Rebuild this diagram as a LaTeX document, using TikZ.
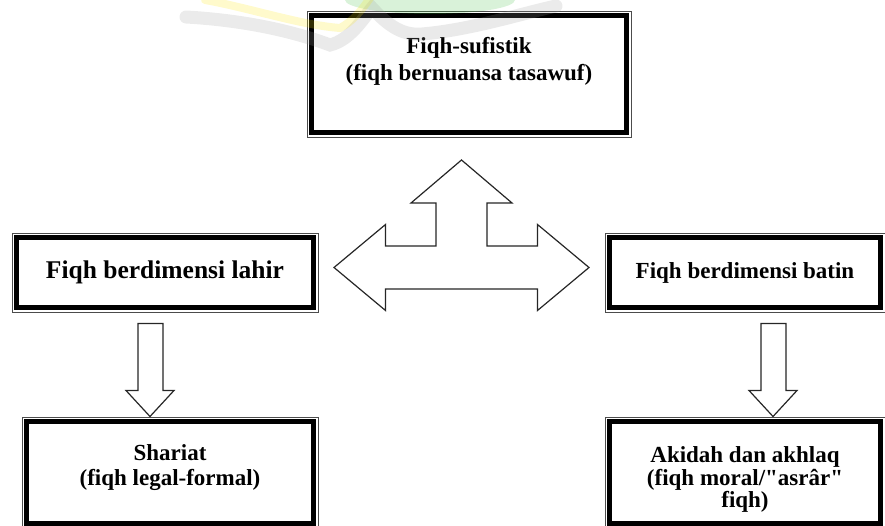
\documentclass[tikz,border=0pt]{standalone}
\usepackage{fontspec}
\setmainfont{Liberation Serif}
\usetikzlibrary{positioning,calc}

\tikzset{
  kotak/.style={draw=black, line width=5pt, fill=white, inner sep=0pt, outer sep=0pt},
  bingkai/.style={draw=black!70, line width=0.9pt},
  tulisan/.style={font=\bfseries\fontsize{23}{25}\selectfont, align=center, inner sep=0pt},
  panah/.style={draw=black!85, line width=1.2pt, fill=white, line join=miter},
}

\begin{document}
\begin{tikzpicture}[x=1pt,y=-1pt]
    \useasboundingbox (0,0) rectangle (885,526);
    \clip (0,0) rectangle (885,526);

    % kotak dengan garis tebal
    \node[kotak, minimum width=315pt, minimum height=117pt] (sufi) at (469,74) {};
    \node[kotak, tulisan, font=\bfseries\fontsize{25.5}{27}\selectfont, minimum width=297pt, minimum height=70pt] (lahir) at (165,272.5) {Fiqh berdimensi lahir};
    \node[kotak, tulisan, minimum width=271pt, minimum height=70pt] (batin) at (745,272.5) {Fiqh berdimensi batin};
    \node[kotak, minimum width=287pt, minimum height=102pt] (syariat) at (170,472.5) {};
    \node[kotak, minimum width=271pt, minimum height=102pt] (akidah) at (745,472.5) {};

    % garis tipis di luar
    \foreach \n in {sufi,lahir,batin,syariat,akidah}
        \draw[bingkai] ($(\n.north west)+(-4.5,-4.5)$) rectangle ($(\n.south east)+(4.5,4.5)$);

    \node[tulisan, font=\bfseries\fontsize{23}{27}\selectfont, below=21.5pt of sufi.north] (sufiteks) {Fiqh-sufistik\\(fiqh bernuansa tasawuf)};
    \node[tulisan, below=23pt of syariat.north] (syariatteks) {Shariat\\(fiqh legal-formal)};
    \node[tulisan, font=\bfseries\fontsize{23}{22.5}\selectfont, below=25pt of akidah.north] (akidahteks) {Akidah dan akhlaq\\(fiqh moral/\textquotedbl asrâr\textquotedbl\\fiqh)};

    % panah tiga arah
    \coordinate (simpang) at (461.5,267.5);
    \draw[panah] ($(simpang)+(-127.5,0)$) -- ++(51.5,-43) -- ++(0,21.5) -- ++(50.5,0) -- ++(0,-43) -- ++(-25,0)
        -- ++(50.5,-43) -- ++(50.5,43) -- ++(-25,0) -- ++(0,43) -- ++(50.5,0) -- ++(0,-21.5)
        -- ++(51.5,43) -- ++(-51.5,43) -- ++(0,-21.5) -- ++(-152,0) -- ++(0,21.5) -- cycle;

    % panah ke bawah
    \draw[panah] ($(syariat.north)+(-20,-5)$) -- ++(-24,-26) -- ++(12,0) -- ++(0,-67) -- ++(25,0) -- ++(0,67) -- ++(11,0) -- cycle;
    \draw[panah] ($(akidah.north)+(28,-5)$) -- ++(-24,-26) -- ++(12,0) -- ++(0,-67) -- ++(25,0) -- ++(0,67) -- ++(11,0) -- cycle;

    % tanda air (logo samar)
    \begin{scope}[opacity=0.2, line cap=round]
    \fill[green!50!gray] (430,0) ellipse (85pt and 14pt);
    \draw[line width=13pt, gray!80] (186,17) .. controls (240,20) and (290,30) .. (330,45) .. controls (350,40) and (362,20) .. (372,8)
        .. controls (385,22) and (400,36) .. (422,34) .. controls (470,30) and (520,14) .. (556,6);
    \draw[line width=8pt, yellow!90!orange] (205,0) .. controls (250,8) and (300,25) .. (340,28) .. controls (352,22) and (362,10) .. (370,-2);
    \end{scope}
\end{tikzpicture}
\end{document}
